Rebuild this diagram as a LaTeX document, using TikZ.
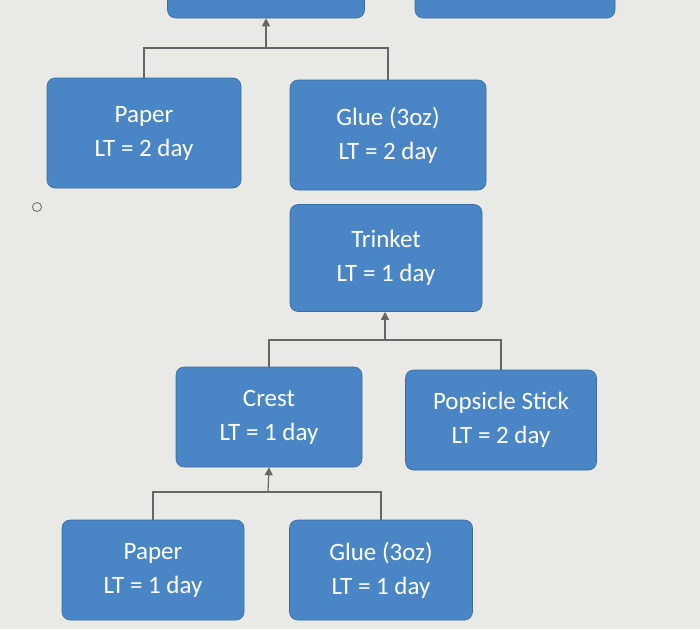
\documentclass[tikz,border=0pt]{standalone}
\usepackage{fontspec}
\setmainfont{Carlito}
\usetikzlibrary{arrows.meta}
\definecolor{bx}{HTML}{4A86C6}
\definecolor{bg}{HTML}{E9E9E6}
\begin{document}
\begin{tikzpicture}[x=1pt,y=-1pt,
 box/.style={fill=bx,draw=bx!80!black,line width=0.6pt,rounded corners=8pt,text=white,align=center,font=\fontsize{25}{34}\selectfont,inner sep=0pt},
 con/.style={draw=black!60,line width=1.2pt},
 arr/.style={con,-{Triangle[length=8pt,width=8pt]}}]
\fill[bg] (0,0) rectangle (700,629);
\useasboundingbox (0,0) rectangle (700,629);
\node[box,minimum width=197pt,minimum height=28pt] (t1) at (266,4) {};
\node[box,minimum width=200pt,minimum height=28pt] (t2) at (515,4) {};
\node[box,minimum width=194pt,minimum height=110pt] (p1) at (144,133) {Paper\\LT = 2 day};
\node[box,minimum width=196pt,minimum height=110pt] (g1) at (388,135) {Glue (3oz)\\LT = 2 day};
\node[box,minimum width=192pt,minimum height=107pt] (tr) at (386,258) {Trinket\\LT = 1 day};
\node[box,minimum width=186pt,minimum height=100pt] (cr) at (269,417) {Crest\\LT = 1 day};
\node[box,minimum width=191pt,minimum height=100pt] (ps) at (501,420) {Popsicle Stick\\LT = 2 day};
\node[box,minimum width=182pt,minimum height=100pt] (p2) at (153,570) {Paper\\LT = 1 day};
\node[box,minimum width=183pt,minimum height=100pt] (g2) at (381,570) {Glue (3oz)\\LT = 1 day};
\coordinate (j1) at (266,48);
\coordinate (j2) at (385,340);
\coordinate (j3) at (268,492);
\draw[arr] (j1) -- (t1.south);
\draw[con] (p1.north) |- (j1) -| (g1.north);
\draw[arr] (j2) -- (j2|-tr.south);
\draw[con] (ps.north) |- (j2) -| (cr.north);
\draw[arr] (j3) -- (cr.south);
\draw[con] (p2.north) |- (j3) -| (g2.north);
\node[circle,draw=black!60,line width=0.8pt,minimum size=9pt,inner sep=0pt] (c) at (37,207) {};
\end{tikzpicture}
\end{document}
